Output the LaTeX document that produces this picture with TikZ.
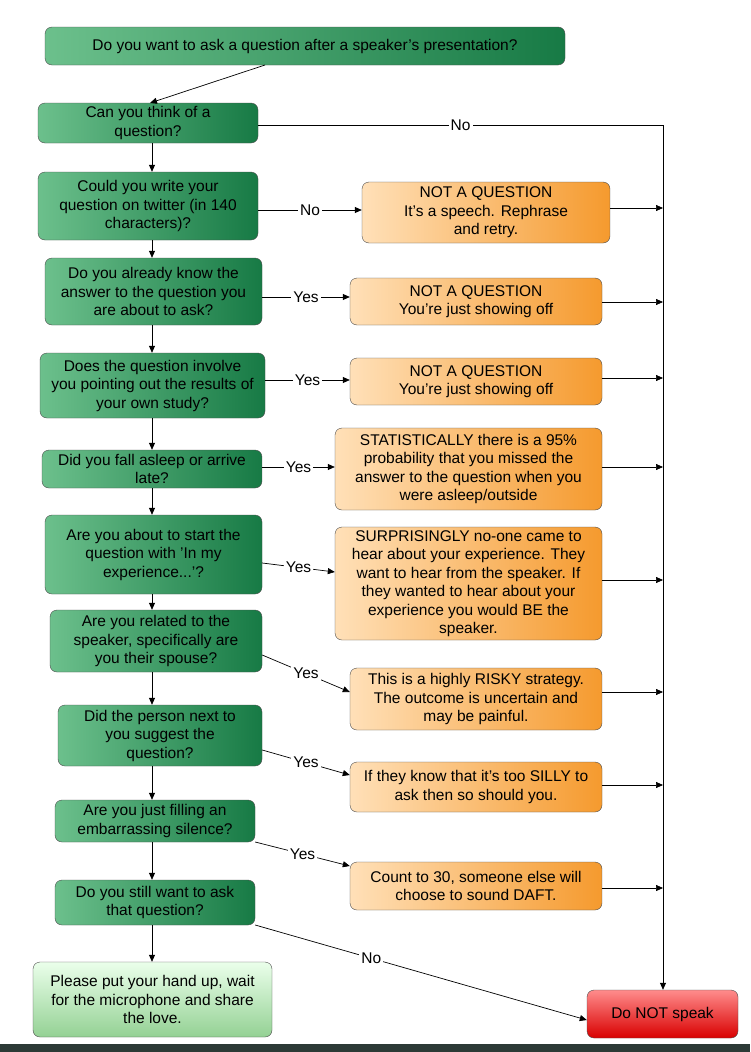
\documentclass[tikz,border=0pt]{standalone}
\usepackage{fontspec}
\setmainfont{Liberation Sans}
\usetikzlibrary{arrows.meta,calc}
\definecolor{gA}{HTML}{6CC08C}
\definecolor{gB}{HTML}{177A45}
\definecolor{oA}{HTML}{FFE0B8}
\definecolor{oB}{HTML}{F59A2E}
\definecolor{band}{HTML}{2C3A36}
\begin{document}
\begin{tikzpicture}[x=1pt,y=-1pt,
 g/.style={draw=black!70,rounded corners=7pt,left color=gA,right color=gB,align=center,font=\fontsize{15.5}{18.5}\selectfont,inner sep=1pt},
 o/.style={draw=black!70,rounded corners=7pt,left color=oA,right color=oB,align=center,font=\fontsize{15.5}{18.5}\selectfont,inner sep=1pt},
 ar/.style={-{Triangle[length=7pt,width=6pt]},line width=0.7pt},
 ln/.style={line width=0.7pt},
 lb/.style={fill=white,font=\fontsize{15.5}{17}\selectfont,inner sep=2pt}]
\useasboundingbox (0,0) rectangle (750,1052);
\fill[white] (0,0) rectangle (750,1052);
\fill[band] (0,1044) rectangle (750,1052);
\newcommand{\gbox}[6]{\node[g,minimum width=#4-#2,minimum height=#5-#3] (#1) at ({(#2+#4)/2},{(#3+#5)/2}) {#6};}
\newcommand{\obox}[6]{\node[o,minimum width=#4-#2,minimum height=#5-#3] (#1) at ({(#2+#4)/2},{(#3+#5)/2}) {#6};}
\gbox{q1}{45}{27}{565}{65}{Do you want to ask a question after a speaker's presentation?}
\gbox{q2}{38}{103}{258}{143}{Can you think of a\\question?}
\gbox{q3}{38}{172}{258}{240}{Could you write your\\question on twitter (in 140\\characters)?}
\gbox{q4}{45}{258}{262}{325}{Do you already know the\\answer to the question you\\are about to ask?}
\gbox{q5}{40}{353}{265}{418}{Does the question involve\\you pointing out the results of\\your own study?}
\gbox{q6}{42}{450}{262}{488}{Did you fall asleep or arrive\\late?}
\gbox{q7}{45}{515}{262}{594}{Are you about to start the\\question with 'In my\\experience...'?}
\gbox{q8}{50}{610}{262}{672}{Are you related to the\\speaker, specifically are\\you their spouse?}
\gbox{q9}{58}{705}{262}{766}{Did the person next to\\you suggest the\\question?}
\gbox{q10}{55}{800}{255}{842}{Are you just filling an\\embarrassing silence?}
\gbox{q11}{55}{880}{255}{925}{Do you still want to ask\\that question?}
\node[draw=black!70,rounded corners=7pt,top color=green!8,bottom color=green!40!gray!60,align=center,font=\fontsize{15.5}{18.5}\selectfont,inner sep=1pt,minimum width=239,minimum height=75] (fin) at (152.5,999.5) {Please put your hand up, wait\\for the microphone and share\\the love.};
\node[draw=black!70,rounded corners=7pt,top color=red!45,bottom color=red!85!black,font=\fontsize{15.5}{18.5}\selectfont,minimum width=151,minimum height=48] (no) at (662.5,1014) {Do NOT speak};
\obox{a}{362}{182}{610}{243}{NOT A QUESTION\\It's a speech. Rephrase\\and retry.}
\obox{b}{350}{278}{602}{325}{NOT A QUESTION\\You're just showing off}
\obox{c}{350}{358}{602}{405}{NOT A QUESTION\\You're just showing off}
\obox{d}{335}{428}{602}{510}{STATISTICALLY there is a 95\%\\probability that you missed the\\answer to the question when you\\were asleep/outside}
\obox{e}{335}{527}{602}{640}{SURPRISINGLY no-one came to\\hear about your experience. They\\want to hear from the speaker. If\\they wanted to hear about your\\experience you would BE the\\speaker.}
\obox{f}{350}{668}{602}{730}{This is a highly RISKY strategy.\\The outcome is uncertain and\\may be painful.}
\obox{g}{350}{762}{602}{812}{If they know that it's too SILLY to\\ask then so should you.}
\obox{h}{350}{862}{602}{910}{Count to 30, someone else will\\choose to sound DAFT.}
% vertical chain
\draw[ar] (265,65) -- (150,103);
\foreach \u/\v in {q2/q3,q3/q4,q4/q5,q5/q6,q6/q7,q7/q8,q8/q9,q9/q10,q10/q11,q11/fin}
  \draw[ar] (\u.south -| 152,0) -- (\v.north -| 152,0);
% right trunk
\coordinate (t0) at (663,125);
\draw[ln] (q2.east |- 0,125) -- node[lb]{No} (t0);
\draw[ar] (t0) -- (no.north -| t0);
\foreach \n/\y in {a/208,b/302,c/378,d/467,e/580,f/692,g/785,h/888}
  \draw[ar] (\n.east |- 0,\y) -- (663,\y);
% yes/no arrows
\draw[ar] (q3.east |- 0,210) -- node[lb]{No} (a.west |- 0,210);
\draw[ar] (q4.east |- 0,297) -- node[lb]{Yes} (b.west |- 0,297);
\draw[ar] (q5.east |- 0,380) -- node[lb]{Yes} (c.west |- 0,380);
\draw[ar] (q6.east |- 0,467) -- node[lb]{Yes} (d.west |- 0,467);
\draw[ar] (q7.east |- 0,563) -- node[lb]{Yes} (e.west |- 0,572);
\draw[ar] (q8.east |- 0,655) -- node[lb]{Yes} (f.west |- 0,692);
\draw[ar] (q9.east |- 0,750) -- node[lb]{Yes} (g.west |- 0,775);
\draw[ar] (q10.east |- 0,842) -- node[lb]{Yes} (h.west |- 0,866);
\draw[ar] (q11.east |- 0,925) -- node[lb,pos=0.35]{No} (no.west |- 0,1020);
\end{tikzpicture}
\end{document}
